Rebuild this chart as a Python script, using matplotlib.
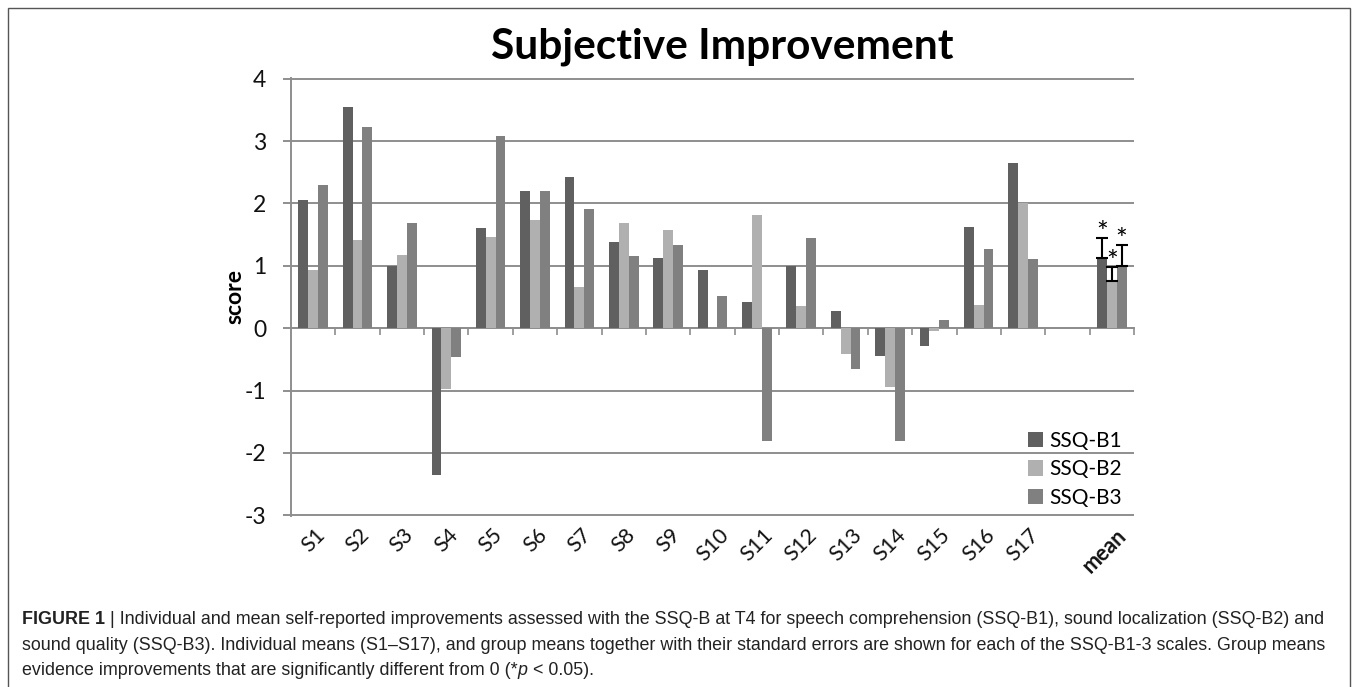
import matplotlib
matplotlib.use("Agg")
import matplotlib.pyplot as plt
import numpy as np
from matplotlib.patches import Rectangle
from matplotlib.transforms import blended_transform_factory, offset_copy

# ---------------- data ----------------
subjects = ["S1", "S2", "S3", "S4", "S5", "S6", "S7", "S8", "S9", "S10",
            "S11", "S12", "S13", "S14", "S15", "S16", "S17"]
mean_label = "mean"
series_names = ["SSQ-B1", "SSQ-B2", "SSQ-B3"]
ssq_b1 = [2.05, 3.54, 0.99, -2.35, 1.60, 2.20, 2.42, 1.38, 1.13, 0.94,
          0.42, 0.99, 0.27, -0.44, -0.28, 1.62, 2.64]
ssq_b2 = [0.93, 1.42, 1.17, -0.98, 1.46, 1.73, 0.66, 1.69, 1.58, 0.00,
          1.81, 0.35, -0.42, -0.94, -0.04, 0.37, 2.00]
ssq_b3 = [2.29, 3.22, 1.69, -0.46, 3.08, 2.20, 1.91, 1.15, 1.33, 0.52,
          -1.80, 1.45, -0.65, -1.80, 0.13, 1.27, 1.11]
group_means = [1.12, 0.75, 0.99]
group_se = [0.33, 0.23, 0.35]
y_ticks = [-3, -2, -1, 0, 1, 2, 3, 4]

colors = ["#606060", "#b0b0b0", "#808080"]
grid_color = "#8e8e8e"

plt.rcParams["font.family"] = ["Lato", "DejaVu Sans"]

W, H = 1357, 687
fig = plt.figure(figsize=(W / 100, H / 100), dpi=100)
fig.patch.set_facecolor("white")

ax_l, ax_r, ax_t, ax_b = 291, 1134, 78, 516
ax = fig.add_axes([ax_l / W, 1 - ax_b / H, (ax_r - ax_l) / W, (ax_b - ax_t) / H])

# positions: 17 subjects, one empty slot, then mean
pos_subj = np.arange(len(subjects))
pos_mean = len(subjects) + 1
ncat = pos_mean + 1
bw = 0.222

all_series = [ssq_b1, ssq_b2, ssq_b3]
for j, (vals, name, col) in enumerate(zip(all_series, series_names, colors)):
    off = (j - 1) * bw
    ax.bar(pos_subj + off, vals, bw, color=col, label=name, zorder=3, linewidth=0)
    ax.bar([pos_mean + off], [group_means[j]], bw, color=col, zorder=3, linewidth=0)
    ax.errorbar([pos_mean + off], [group_means[j]], yerr=[[0], [group_se[j]]],
                fmt="none", ecolor="black", elinewidth=1.5, capsize=4.2,
                capthick=1.5, zorder=4)
    ax.annotate("*", xy=(pos_mean + off, group_means[j] + group_se[j]),
                xytext=(0, -3), textcoords="offset points", ha="center",
                va="baseline", fontsize=20, zorder=5)

ax.set_xlim(-0.5, ncat - 0.5)
ax.set_ylim(-3.01, 4.01)
ax.set_yticks(y_ticks)
ax.set_yticklabels([str(v) for v in y_ticks])
ax.yaxis.grid(True, color=grid_color, linewidth=1.4, zorder=0)
ax.set_axisbelow(True)

for s in ["top", "right"]:
    ax.spines[s].set_visible(False)
ax.spines["bottom"].set_position(("data", 0))
ax.spines["bottom"].set_color(grid_color)
ax.spines["bottom"].set_linewidth(1.4)
ax.spines["bottom"].set_zorder(2)
ax.spines["left"].set_color(grid_color)
ax.spines["left"].set_linewidth(1.4)

ax.set_xticks(np.arange(0.5, ncat, 1.0))
ax.tick_params(axis="x", direction="out", length=5, width=1.2, color=grid_color,
               labelbottom=False)
ax.tick_params(axis="y", direction="out", length=6, width=1.4, color=grid_color,
               pad=12, labelsize=16.5, labelcolor="#111111")

# category labels at the bottom of the plot
trans = offset_copy(blended_transform_factory(ax.transData, ax.transAxes),
                    fig=fig, x=0, y=-9, units="dots")
for p, lab in zip(pos_subj, subjects):
    ax.text(p, 0, lab, transform=trans, rotation=45, ha="center", va="top",
            fontsize=15.5, color="#111111")
ax.text(pos_mean - 0.15, 0, mean_label, transform=trans, rotation=45, ha="center",
        va="top", fontsize=15.5, fontweight="bold", color="#111111")

ax.set_ylabel("score", fontsize=16.5, fontweight="bold")
ax.yaxis.label.set_va("center")
ax.yaxis.set_label_coords((235 - ax_l) / (ax_r - ax_l), 0.5)

ax.legend(loc="upper left", bbox_to_anchor=(1028 / W, 1 - 431 / H),
          bbox_transform=fig.transFigure, frameon=False, fontsize=15,
          handlelength=0.72, handleheight=0.76, handletextpad=0.3,
          labelspacing=0.4, borderpad=0, borderaxespad=0)

fig.text(722 / W, 1 - 59 / H, "Subjective Improvement", ha="center",
         va="baseline", fontsize=30.5, fontweight="bold")

# frame around the figure
fig.add_artist(Rectangle((8 / W, -0.05), (1350 - 8) / W, (1 - 8 / H) + 0.05,
                         fill=False, ec="#555555", lw=1.0,
                         transform=fig.transFigure))

# caption
fig.canvas.draw()
renderer = fig.canvas.get_renderer()
cap_kw = dict(family=["Liberation Sans", "DejaVu Sans"], fontsize=12.9, color="#222222")


def draw_line(pieces, x_px, base_px):
    x = x_px
    for txt, style in pieces:
        kw = dict(cap_kw)
        if style == "b":
            kw["fontweight"] = "bold"
        elif style == "i":
            kw["fontstyle"] = "italic"
        t = fig.text(x / W, 1 - base_px / H, txt, ha="left", va="baseline", **kw)
        bb = t.get_window_extent(renderer)
        x = bb.x1


draw_line([("FIGURE 1", "b"),
           (" | Individual and mean self-reported improvements assessed with the SSQ-B at T4 "
            "for speech comprehension (SSQ-B1), sound localization (SSQ-B2) and", "n")],
          22, 624)
draw_line([("sound quality (SSQ-B3). Individual means (S1\u2013S17), and group means together "
            "with their standard errors are shown for each of the SSQ-B1-3 scales. Group means", "n")],
          22, 650)
draw_line([("evidence improvements that are significantly different from 0 (*", "n"),
           ("p", "i"), (" < 0.05).", "n")], 22, 675)

fig.savefig("out.png", dpi=100, facecolor="white")
